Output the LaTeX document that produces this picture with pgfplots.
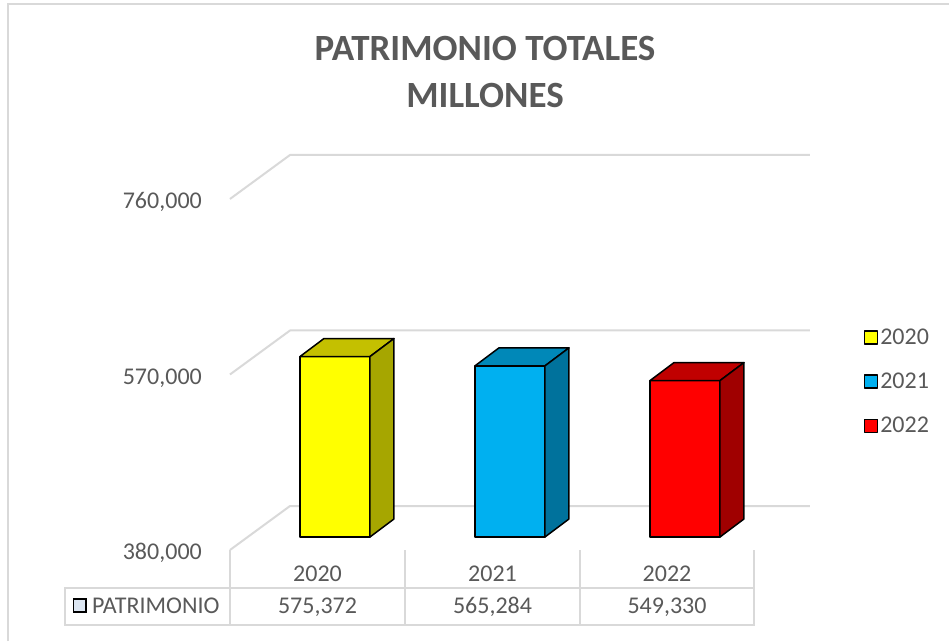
\documentclass[border=0pt]{standalone}
\usepackage{fontspec}
\setmainfont{Carlito}
\usepackage{pgfplots}
\pgfplotsset{compat=1.18}
\definecolor{txt}{HTML}{595959}
\definecolor{gridc}{HTML}{D9D9D9}
\definecolor{yfront}{HTML}{FFFF00}
\definecolor{ytop}{HTML}{C4C000}
\definecolor{yside}{HTML}{A6A600}
\definecolor{bfront}{HTML}{00B0F0}
\definecolor{btop}{HTML}{0088B8}
\definecolor{bside}{HTML}{00729C}
\definecolor{rfront}{HTML}{FF0000}
\definecolor{rtop}{HTML}{C00000}
\definecolor{rside}{HTML}{A00000}
\definecolor{iconc}{HTML}{DCE6F2}
\newcommand{\lbl}{\fontsize{24}{28}\selectfont}
\begin{document}
\begin{tikzpicture}[x=1pt,y=1pt]
\useasboundingbox (0,0) rectangle (949,641);
\begin{axis}[
  at={(0,0)}, anchor=south west,
  width=949pt, height=641pt, scale only axis,
  xmin=-1.914, xmax=3.5086, ymin=267407, ymax=961367,
  hide axis, clip=false,
  legend style={at={(0.910,0.490)}, anchor=north west, draw=none, fill=none,
    font=\lbl, text=txt, row sep=23pt, inner sep=0pt,
    nodes={inner sep=2pt}},
  legend cell align=left,
  legend image code/.code={\draw[#1, line width=1.5pt] (0pt,-6.5pt) rectangle (13pt,6.5pt);},
  every axis plot/.append style={line join=round},
]
% back wall / floor gridlines
\addplot[gridc, line width=2pt, forget plot] coordinates {(-0.6,365930) (-0.257,413560) (2.714,413560)};
\addplot[gridc, line width=2pt, forget plot] coordinates {(-0.6,555930) (-0.257,603560) (2.714,603560)};
\addplot[gridc, line width=2pt, forget plot] coordinates {(-0.6,745930) (-0.257,793560) (2.714,793560)};
% 2020
\addplot[fill=yfront, draw=black, line width=1.5pt] coordinates {(-0.2,380000) (0.2,380000) (0.2,575372) (-0.2,575372)} -- cycle;
\addlegendentry{2020}
\addplot[fill=ytop, draw=black, line width=1.5pt, forget plot] coordinates {(-0.2,575372) (0.2,575372) (0.337,594859) (-0.063,594859)} -- cycle;
\addplot[fill=yside, draw=black, line width=1.5pt, forget plot] coordinates {(0.2,380000) (0.337,399487) (0.337,594859) (0.2,575372)} -- cycle;
% 2021
\addplot[fill=bfront, draw=black, line width=1.5pt] coordinates {(0.8,380000) (1.2,380000) (1.2,565284) (0.8,565284)} -- cycle;
\addlegendentry{2021}
\addplot[fill=btop, draw=black, line width=1.5pt, forget plot] coordinates {(0.8,565284) (1.2,565284) (1.337,584771) (0.937,584771)} -- cycle;
\addplot[fill=bside, draw=black, line width=1.5pt, forget plot] coordinates {(1.2,380000) (1.337,399487) (1.337,584771) (1.2,565284)} -- cycle;
% 2022
\addplot[fill=rfront, draw=black, line width=1.5pt] coordinates {(1.8,380000) (2.2,380000) (2.2,549330) (1.8,549330)} -- cycle;
\addlegendentry{2022}
\addplot[fill=rtop, draw=black, line width=1.5pt, forget plot] coordinates {(1.8,549330) (2.2,549330) (2.337,568817) (1.937,568817)} -- cycle;
\addplot[fill=rside, draw=black, line width=1.5pt, forget plot] coordinates {(2.2,380000) (2.337,399487) (2.337,568817) (2.2,549330)} -- cycle;
\end{axis}
\begin{scope}[shift={(0,641)}, y=-1pt]
  % frame
  \draw[gridc, line width=1.5pt] (8,641) -- (8,4) -- (949,4);
  % title
  \node[anchor=base, text=txt, font=\fontsize{37}{40}\selectfont\bfseries] at (485,61) {PATRIMONIO TOTALES};
  \node[anchor=base, text=txt, font=\fontsize{37}{40}\selectfont\bfseries] at (485,108) {MILLONES};
  % y tick labels
  \node[anchor=base east, text=txt, font=\lbl, inner sep=0pt] at (202,209) {760,000};
  \node[anchor=base east, text=txt, font=\lbl, inner sep=0pt] at (202,384) {570,000};
  \node[anchor=base east, text=txt, font=\lbl, inner sep=0pt] at (202,559) {380,000};
  % data table
  \draw[gridc, line width=1.5pt] (65,588) rectangle (754,625);
  \foreach \xx in {230,405,580,754} {\draw[gridc, line width=1.5pt] (\xx,550) -- (\xx,625);}
  \node[anchor=base, text=txt, font=\lbl, inner sep=0pt] at (317.5,581) {2020};
  \node[anchor=base, text=txt, font=\lbl, inner sep=0pt] at (492.5,581) {2021};
  \node[anchor=base, text=txt, font=\lbl, inner sep=0pt] at (667,581) {2022};
  \node[anchor=base, text=txt, font=\lbl, inner sep=0pt] at (317.5,613) {575,372};
  \node[anchor=base, text=txt, font=\lbl, inner sep=0pt] at (492.5,613) {565,284};
  \node[anchor=base, text=txt, font=\lbl, inner sep=0pt] at (667,613) {549,330};
  \filldraw[fill=iconc, draw=black, line width=1.2pt] (73.5,599) rectangle (86,612);
  \node[anchor=base west, text=txt, font=\lbl, inner sep=0pt] at (92,613) {PATRIMONIO};
\end{scope}
\end{tikzpicture}
\end{document}
